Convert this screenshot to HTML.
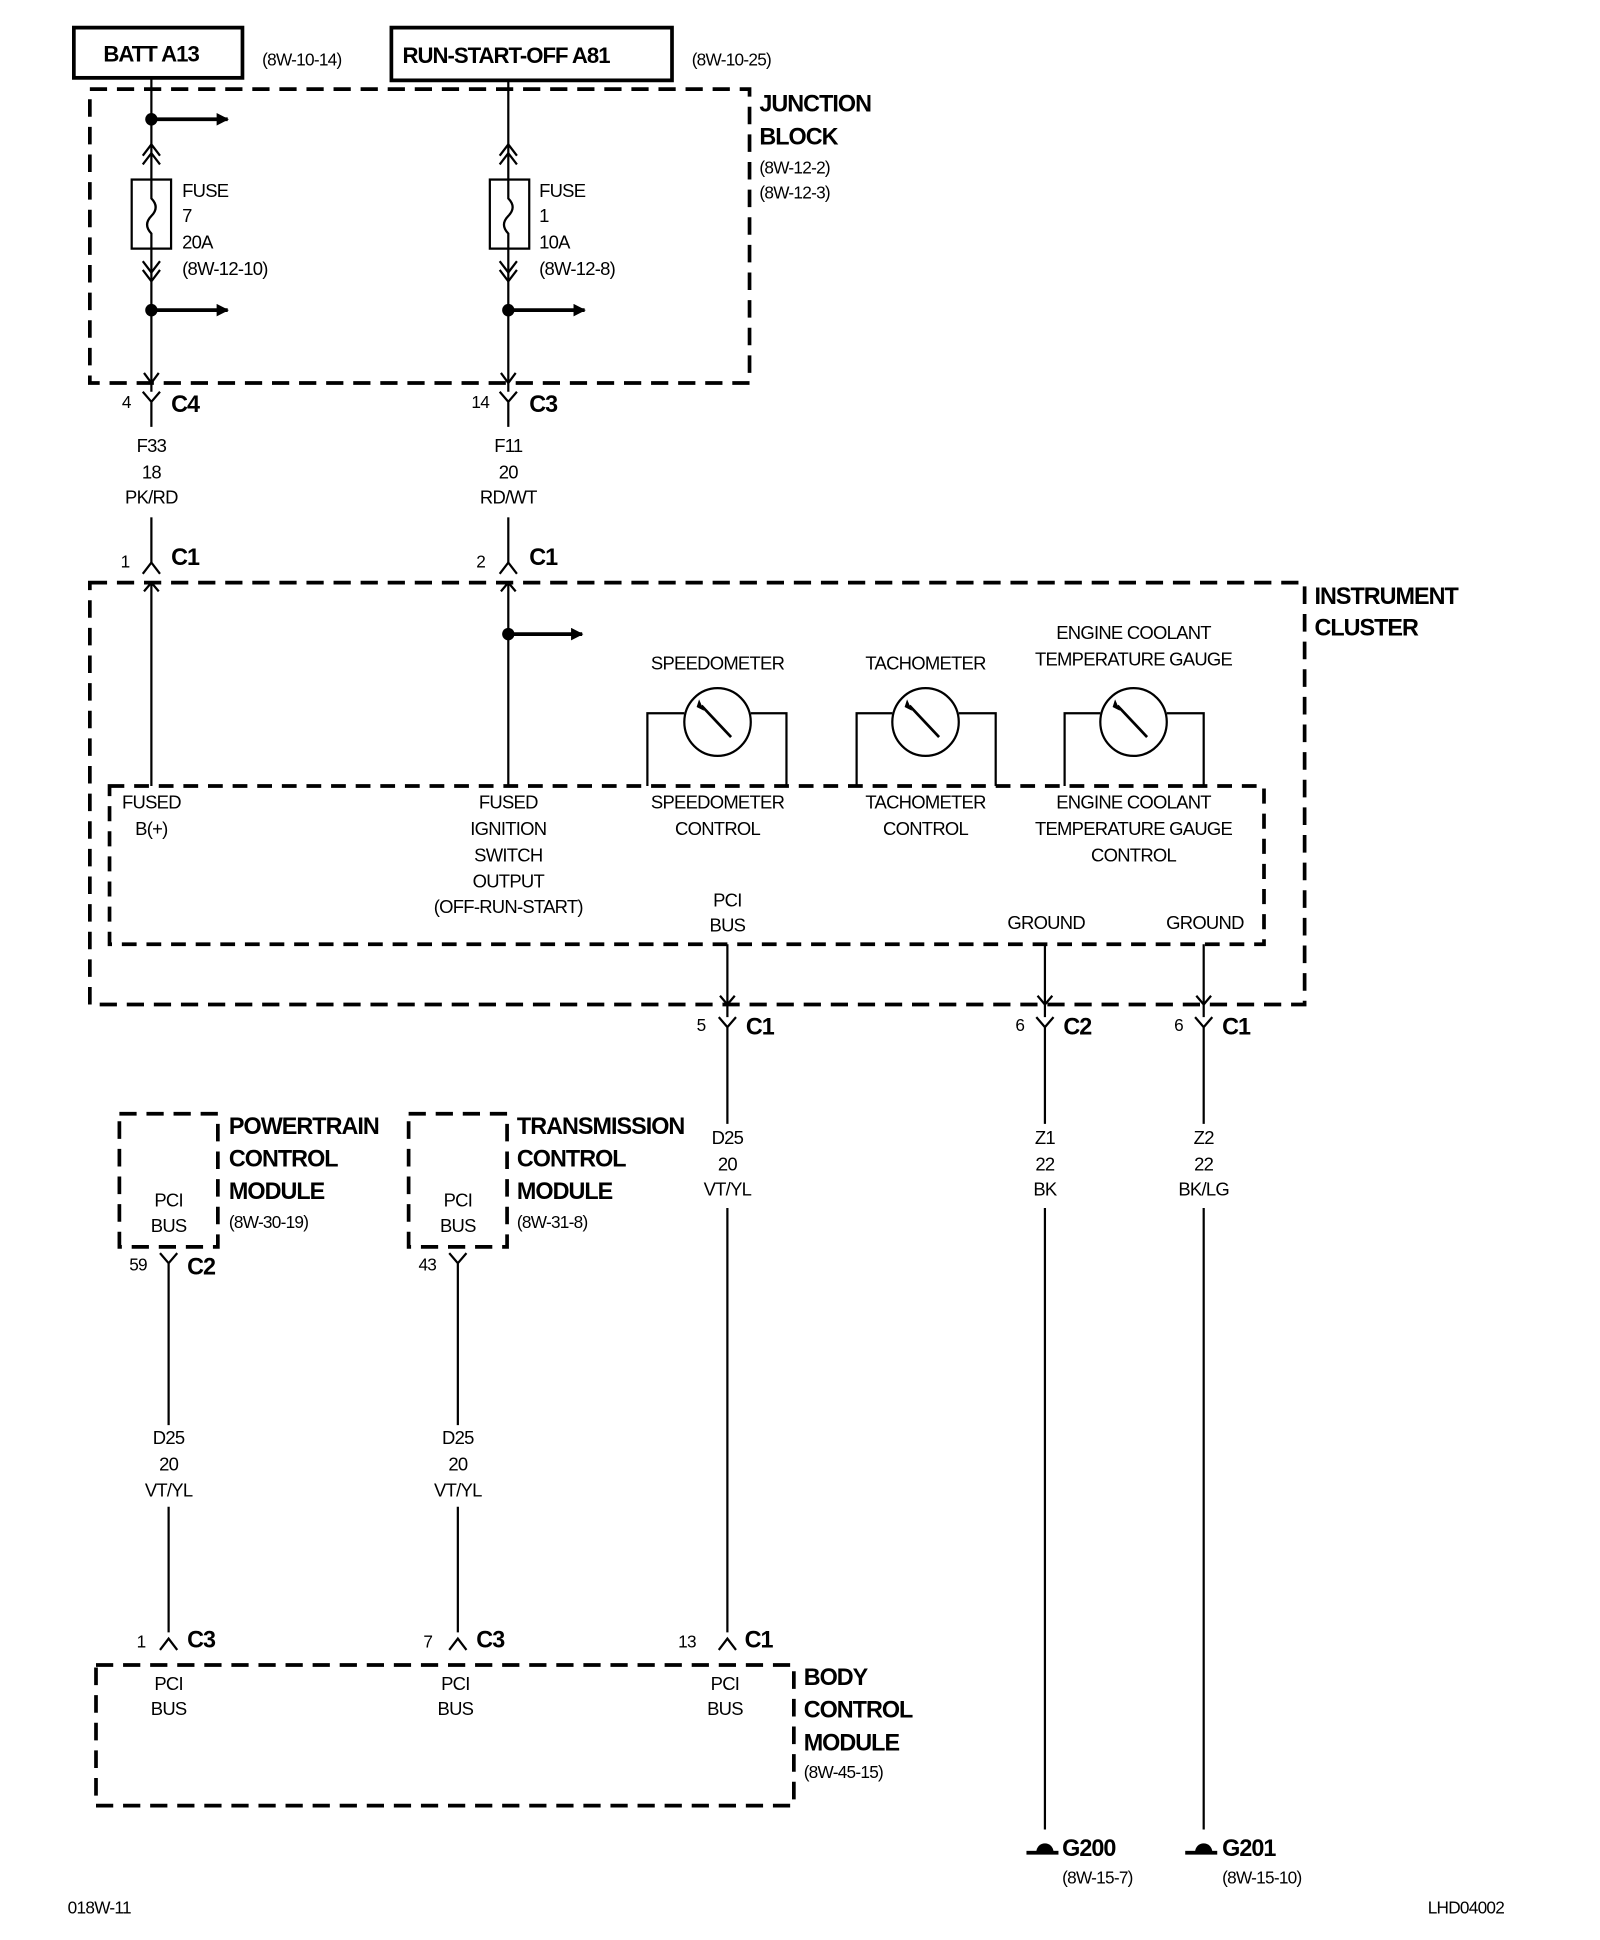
<!DOCTYPE html>
<html><head><meta charset="utf-8"><style>
html,body{margin:0;padding:0;background:#fff;}
svg{display:block;}
text{font-family:"Liberation Sans Narrow","Liberation Sans",sans-serif;fill:#000;}
.t{font-size:15px;letter-spacing:-0.6px;}
.c{text-anchor:middle;}
.b{font-weight:bold;font-size:19px;letter-spacing:-0.8px;}
.s{font-size:14px;letter-spacing:-0.6px;}
</style></head><body>
<svg width="1600" height="1940" viewBox="0 0 1300 1545" preserveAspectRatio="none" xmlns="http://www.w3.org/2000/svg">
<defs>
<marker id="ah" markerWidth="10" markerHeight="10" refX="9" refY="5" orient="auto" markerUnits="userSpaceOnUse"><path d="M0,0 L10,5 L0,10 Z" fill="#000"/></marker>
</defs>
<g stroke="#000" fill="none">
<!-- top boxes -->
<rect x="60" y="22" width="137" height="40" stroke-width="3"/>
<rect x="318" y="22" width="228" height="42" stroke-width="3"/>
<!-- junction block -->
<rect x="73" y="71" width="536" height="234" stroke-width="3" stroke-dasharray="14,8"/>
<!-- instrument cluster -->
<rect x="73" y="464" width="987" height="336" stroke-width="3" stroke-dasharray="14,8"/>
<rect x="89" y="626" width="938" height="126" stroke-width="3" stroke-dasharray="12,8"/>
<!-- modules -->
<rect x="97" y="887" width="80" height="106" stroke-width="3" stroke-dasharray="14,8"/>
<rect x="332" y="887" width="80" height="106" stroke-width="3" stroke-dasharray="14,8"/>
<rect x="78" y="1326" width="567" height="112" stroke-width="3" stroke-dasharray="14,8"/>

<g stroke-width="1.8">
<!-- left JB wire -->
<line x1="123" y1="62" x2="123" y2="143"/>
<line x1="123" y1="198" x2="123" y2="312"/>
<!-- right JB wire -->
<line x1="413" y1="64" x2="413" y2="143"/>
<line x1="413" y1="198" x2="413" y2="312"/>
<!-- chevrons up -->
<path d="M116,124 L123,115 L130,124 M116,131 L123,122 L130,131"/>
<path d="M406,124 L413,115 L420,124 M406,131 L413,122 L420,131"/>
<!-- chevrons down -->
<path d="M116,208 L123,217 L130,208 M116,215 L123,224 L130,215"/>
<path d="M406,208 L413,217 L420,208 M406,215 L413,224 L420,215"/>
<!-- fuses -->
<rect x="107" y="143" width="32" height="55"/>
<rect x="398" y="143" width="32" height="55"/>
<path d="M123,143 L123,158 Q130,165 123,172 Q116,179 123,186 L123,198"/>
<path d="M413,143 L413,158 Q420,165 413,172 Q406,179 413,186 L413,198"/>
<!-- down arrows into connectors -->
<path d="M117,297 L123,305 L129,297"/>
<path d="M407,297 L413,305 L419,297"/>
<!-- Y connectors top -->
<path d="M116,312 L123,320 L130,312 M123,320 L123,340"/>
<path d="M406,312 L413,320 L420,312 M413,320 L413,340"/>
<line x1="123" y1="412" x2="123" y2="448"/>
<line x1="413" y1="412" x2="413" y2="448"/>
<path d="M116,457 L123,448 L130,457"/>
<path d="M406,457 L413,448 L420,457"/>
<!-- cluster internal wires -->
<line x1="123" y1="464" x2="123" y2="626"/>
<line x1="413" y1="464" x2="413" y2="626"/>
<path d="M117,471 L123,464 L129,471"/>
<path d="M407,471 L413,464 L419,471"/>
<!-- gauges -->
<path d="M526,626 L526,568 L556,568 M610,568 L639,568 L639,626"/>
<path d="M696,626 L696,568 L725,568 M779,568 L809,568 L809,626"/>
<path d="M865,626 L865,568 L894,568 M948,568 L978,568 L978,626"/>
<circle cx="583" cy="575" r="27"/>
<circle cx="752" cy="575" r="27"/>
<circle cx="921" cy="575" r="27"/>
<!-- ground & pci down -->
<line x1="591" y1="752" x2="591" y2="810"/>
<line x1="849" y1="752" x2="849" y2="810"/>
<line x1="978" y1="752" x2="978" y2="810"/>
<path d="M585,793 L591,800 L597,793"/>
<path d="M843,793 L849,800 L855,793"/>
<path d="M972,793 L978,800 L984,793"/>
<path d="M584,810 L591,818 L598,810 M591,818 L591,895"/>
<path d="M842,810 L849,818 L856,810 M849,818 L849,895"/>
<path d="M971,810 L978,818 L985,810 M978,818 L978,895"/>
<line x1="591" y1="962" x2="591" y2="1300"/>
<line x1="849" y1="962" x2="849" y2="1457"/>
<line x1="978" y1="962" x2="978" y2="1457"/>
<!-- module connectors -->
<path d="M130,998 L137,1006 L144,998 M137,1006 L137,1135"/>
<path d="M365,998 L372,1006 L379,998 M372,1006 L372,1135"/>
<line x1="137" y1="1200" x2="137" y2="1300"/>
<line x1="372" y1="1200" x2="372" y2="1300"/>
<path d="M130,1314 L137,1305 L144,1314"/>
<path d="M365,1314 L372,1305 L379,1314"/>
<path d="M584,1314 L591,1305 L598,1314"/>
</g>
<!-- needles -->
<g stroke-width="2.2">
<line x1="570" y1="562" x2="594" y2="587"/>
<line x1="739" y1="562" x2="763" y2="587"/>
<line x1="908" y1="562" x2="932" y2="587"/>
</g>
<!-- branch arrows -->
<g stroke-width="3" marker-end="url(#ah)">
<line x1="123" y1="95" x2="185" y2="95"/>
<line x1="123" y1="247" x2="185" y2="247"/>
<line x1="413" y1="247" x2="475" y2="247"/>
<line x1="413" y1="505" x2="473" y2="505"/>
</g>
</g>
<g fill="#000">
<circle cx="123" cy="95" r="5"/>
<circle cx="123" cy="247" r="5"/>
<circle cx="413" cy="247" r="5"/>
<circle cx="413" cy="505" r="5"/>
<path d="M568,557 L572,566 L566,563 Z"/>
<path d="M737,557 L741,566 L735,563 Z"/>
<path d="M906,557 L910,566 L904,563 Z"/>
<!-- grounds -->
<path d="M842,1475 A7,7 0 1 1 856,1475 Z"/><rect x="834" y="1474" width="26" height="3"/>
<path d="M971,1475 A7,7 0 1 1 985,1475 Z"/><rect x="963" y="1474" width="26" height="3"/>
</g>

<!-- text -->
<text class="b" x="84" y="49" style="font-size:18px">BATT A13</text>
<text class="s" x="213" y="52">(8W-10-14)</text>
<text class="b" x="327" y="50" style="font-size:18px">RUN-START-OFF A81</text>
<text class="s" x="562" y="52">(8W-10-25)</text>
<text class="b" x="617" y="89">JUNCTION</text>
<text class="b" x="617" y="115">BLOCK</text>
<text class="s" x="617" y="138">(8W-12-2)</text>
<text class="s" x="617" y="158">(8W-12-3)</text>
<text class="t" x="148" y="157">FUSE</text><text class="t" x="148" y="177">7</text><text class="t" x="148" y="198">20A</text><text class="t" x="148" y="219">(8W-12-10)</text>
<text class="t" x="438" y="157">FUSE</text><text class="t" x="438" y="177">1</text><text class="t" x="438" y="198">10A</text><text class="t" x="438" y="219">(8W-12-8)</text>
<text class="s" x="99" y="325">4</text><text class="b" x="139" y="328">C4</text>
<text class="s" x="383" y="325">14</text><text class="b" x="430" y="328">C3</text>
<g class="t c"><text class="t c" x="123" y="360">F33</text><text class="t c" x="123" y="381">18</text><text class="t c" x="123" y="401">PK/RD</text>
<text class="t c" x="413" y="360">F11</text><text class="t c" x="413" y="381">20</text><text class="t c" x="413" y="401">RD/WT</text></g>
<text class="s" x="98" y="452">1</text><text class="b" x="139" y="450">C1</text>
<text class="s" x="387" y="452">2</text><text class="b" x="430" y="450">C1</text>
<text class="b" x="1068" y="481">INSTRUMENT</text>
<text class="b" x="1068" y="506">CLUSTER</text>
<text class="t c" x="583" y="533">SPEEDOMETER</text>
<text class="t c" x="752" y="533">TACHOMETER</text>
<text class="t c" x="921" y="509">ENGINE COOLANT</text>
<text class="t c" x="921" y="530">TEMPERATURE GAUGE</text>
<text class="t c" x="123" y="644">FUSED</text><text class="t c" x="123" y="665">B(+)</text>
<text class="t c" x="413" y="644">FUSED</text><text class="t c" x="413" y="665">IGNITION</text><text class="t c" x="413" y="686">SWITCH</text><text class="t c" x="413" y="707">OUTPUT</text><text class="t c" x="413" y="727">(OFF-RUN-START)</text>
<text class="t c" x="583" y="644">SPEEDOMETER</text><text class="t c" x="583" y="665">CONTROL</text>
<text class="t c" x="752" y="644">TACHOMETER</text><text class="t c" x="752" y="665">CONTROL</text>
<text class="t c" x="921" y="644">ENGINE COOLANT</text><text class="t c" x="921" y="665">TEMPERATURE GAUGE</text><text class="t c" x="921" y="686">CONTROL</text>
<text class="t c" x="591" y="722">PCI</text><text class="t c" x="591" y="742">BUS</text>
<text class="t c" x="850" y="740">GROUND</text>
<text class="t c" x="979" y="740">GROUND</text>
<text class="s" x="566" y="821">5</text><text class="b" x="606" y="824">C1</text>
<text class="s" x="825" y="821">6</text><text class="b" x="864" y="824">C2</text>
<text class="s" x="954" y="821">6</text><text class="b" x="993" y="824">C1</text>
<text class="t c" x="591" y="911">D25</text><text class="t c" x="591" y="932">20</text><text class="t c" x="591" y="952">VT/YL</text>
<text class="t c" x="849" y="911">Z1</text><text class="t c" x="849" y="932">22</text><text class="t c" x="849" y="952">BK</text>
<text class="t c" x="978" y="911">Z2</text><text class="t c" x="978" y="932">22</text><text class="t c" x="978" y="952">BK/LG</text>
<text class="b" x="186" y="903">POWERTRAIN</text><text class="b" x="186" y="929">CONTROL</text><text class="b" x="186" y="955">MODULE</text><text class="s" x="186" y="978">(8W-30-19)</text>
<text class="b" x="420" y="903">TRANSMISSION</text><text class="b" x="420" y="929">CONTROL</text><text class="b" x="420" y="955">MODULE</text><text class="s" x="420" y="978">(8W-31-8)</text>
<text class="t c" x="137" y="961">PCI</text><text class="t c" x="137" y="981">BUS</text>
<text class="t c" x="372" y="961">PCI</text><text class="t c" x="372" y="981">BUS</text>
<text class="s" x="105" y="1012">59</text><text class="b" x="152" y="1015">C2</text>
<text class="s" x="340" y="1012">43</text>
<text class="t c" x="137" y="1150">D25</text><text class="t c" x="137" y="1171">20</text><text class="t c" x="137" y="1192">VT/YL</text>
<text class="t c" x="372" y="1150">D25</text><text class="t c" x="372" y="1171">20</text><text class="t c" x="372" y="1192">VT/YL</text>
<text class="s" x="111" y="1312">1</text><text class="b" x="152" y="1312">C3</text>
<text class="s" x="344" y="1312">7</text><text class="b" x="387" y="1312">C3</text>
<text class="s" x="551" y="1312">13</text><text class="b" x="605" y="1312">C1</text>
<text class="t c" x="137" y="1346">PCI</text><text class="t c" x="137" y="1366">BUS</text>
<text class="t c" x="370" y="1346">PCI</text><text class="t c" x="370" y="1366">BUS</text>
<text class="t c" x="589" y="1346">PCI</text><text class="t c" x="589" y="1366">BUS</text>
<text class="b" x="653" y="1342">BODY</text><text class="b" x="653" y="1368">CONTROL</text><text class="b" x="653" y="1394">MODULE</text><text class="s" x="653" y="1416">(8W-45-15)</text>
<text class="b" x="863" y="1478">G200</text><text class="s" x="863" y="1500">(8W-15-7)</text>
<text class="b" x="993" y="1478">G201</text><text class="s" x="993" y="1500">(8W-15-10)</text>
<text class="s" x="55" y="1524">018W-11</text>
<text class="s" x="1160" y="1524">LHD04002</text>
</svg>
</body></html>
